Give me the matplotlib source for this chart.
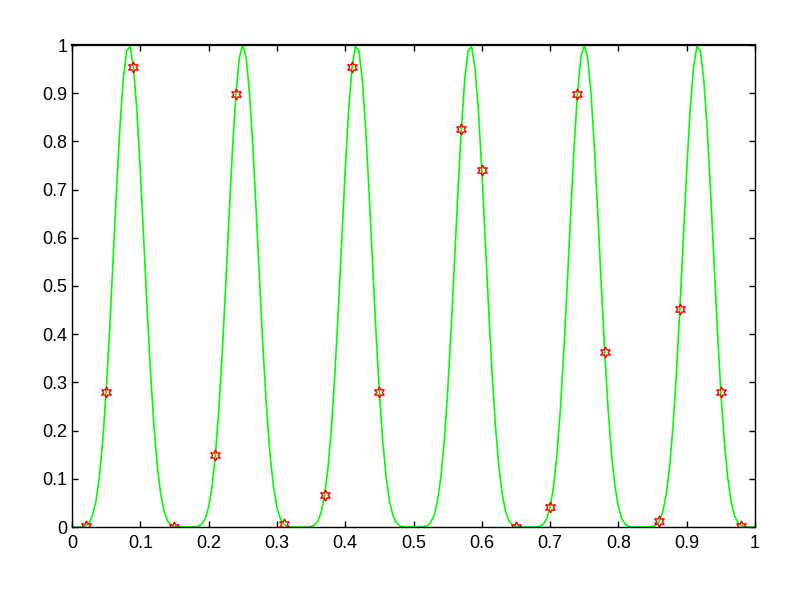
import numpy as np
import matplotlib
matplotlib.use("Agg")
import matplotlib.pyplot as plt

curve_y = [
    0.0000, 0.0000, 0.0000, 0.0005, 0.0025, 0.0088, 0.0237, 0.0530, 0.1029, 0.1781,
    0.2804, 0.4067, 0.5488, 0.6938, 0.8257, 0.9284, 0.9883, 0.9971, 0.9536, 0.8639,
    0.7400, 0.5975, 0.4528, 0.3201, 0.2092, 0.1250, 0.0671, 0.0315, 0.0125, 0.0039,
    0.0009, 0.0001, 0.0000, 0.0000, 0.0000, 0.0000, 0.0002, 0.0015, 0.0060, 0.0174,
    0.0412, 0.0836, 0.1501, 0.2434, 0.3623, 0.5004, 0.6461, 0.7842, 0.8983, 0.9737,
    1.0000, 0.9737, 0.8983, 0.7842, 0.6461, 0.5004, 0.3623, 0.2434, 0.1501, 0.0836,
    0.0412, 0.0174, 0.0060, 0.0015, 0.0002, 0.0000, 0.0000, 0.0000, 0.0000, 0.0001,
    0.0009, 0.0039, 0.0125, 0.0315, 0.0671, 0.1250, 0.2092, 0.3201, 0.4528, 0.5975,
    0.7400, 0.8639, 0.9536, 0.9971, 0.9883, 0.9284, 0.8257, 0.6938, 0.5488, 0.4067,
    0.2804, 0.1781, 0.1029, 0.0530, 0.0237, 0.0088, 0.0025, 0.0005, 0.0000, 0.0000,
    0.0000, 0.0000, 0.0000, 0.0005, 0.0025, 0.0088, 0.0237, 0.0530, 0.1029, 0.1781,
    0.2804, 0.4067, 0.5488, 0.6938, 0.8257, 0.9284, 0.9883, 0.9971, 0.9536, 0.8639,
    0.7400, 0.5975, 0.4528, 0.3201, 0.2092, 0.1250, 0.0671, 0.0315, 0.0125, 0.0039,
    0.0009, 0.0001, 0.0000, 0.0000, 0.0000, 0.0000, 0.0002, 0.0015, 0.0060, 0.0174,
    0.0412, 0.0836, 0.1501, 0.2434, 0.3623, 0.5004, 0.6461, 0.7842, 0.8983, 0.9737,
    1.0000, 0.9737, 0.8983, 0.7842, 0.6461, 0.5004, 0.3623, 0.2434, 0.1501, 0.0836,
    0.0412, 0.0174, 0.0060, 0.0015, 0.0002, 0.0000, 0.0000, 0.0000, 0.0000, 0.0001,
    0.0009, 0.0039, 0.0125, 0.0315, 0.0671, 0.1250, 0.2092, 0.3201, 0.4528, 0.5975,
    0.7400, 0.8639, 0.9536, 0.9971, 0.9883, 0.9284, 0.8257, 0.6938, 0.5488, 0.4067,
    0.2804, 0.1781, 0.1029, 0.0530, 0.0237, 0.0088, 0.0025, 0.0005, 0.0000, 0.0000,
    0.0000,
]
curve_x = np.linspace(0.0, 1.0, len(curve_y))

# Red sample points
sample_x = [0.02, 0.05, 0.09, 0.15, 0.21, 0.24, 0.31, 0.37, 0.41, 0.45,
            0.57, 0.60, 0.65, 0.70, 0.74, 0.78, 0.86, 0.89, 0.95, 0.98]
sample_y = [0.0025, 0.2804, 0.9536, 0.0009, 0.1501, 0.8983, 0.0060, 0.0671, 0.9536, 0.2804,
            0.8257, 0.7400, 0.0009, 0.0412, 0.8983, 0.3623, 0.0125, 0.4528, 0.2804, 0.0025]

tick_values = [0, 0.1, 0.2, 0.3, 0.4, 0.5, 0.6, 0.7, 0.8, 0.9, 1]
tick_labels = ["0", "0.1", "0.2", "0.3", "0.4", "0.5", "0.6", "0.7", "0.8", "0.9", "1"]

plt.rcParams['font.family'] = ['Liberation Sans', 'DejaVu Sans']

fig = plt.figure(figsize=(8.0, 5.98), dpi=100)
ax = fig.add_axes([72 / 800, 1 - 527 / 598, (755 - 72) / 800, (527 - 45) / 598])

ax.plot(curve_x, curve_y, color=(0.0, 1.0, 0.0), linewidth=1.2)
ax.plot(sample_x, sample_y, linestyle='none', marker=(6, 1, 0), markersize=8,
        markerfacecolor='none', markeredgecolor='red', markeredgewidth=1.0)

ax.set_xlim(0, 1)
ax.set_ylim(0, 1)
ax.set_xticks(tick_values)
ax.set_xticklabels(tick_labels)
ax.set_yticks(tick_values)
ax.set_yticklabels(tick_labels)
ax.tick_params(direction='in', length=4.5, width=1.0, top=True, right=True,
               labelsize=13, colors='black')
ax.tick_params(axis='x', pad=6)
ax.tick_params(axis='y', pad=3.5)
for s in ax.spines.values():
    s.set_linewidth(1.0)
    s.set_color('black')
ax.spines['top'].set_linewidth(1.6)

fig.savefig("out.png", dpi=100)
